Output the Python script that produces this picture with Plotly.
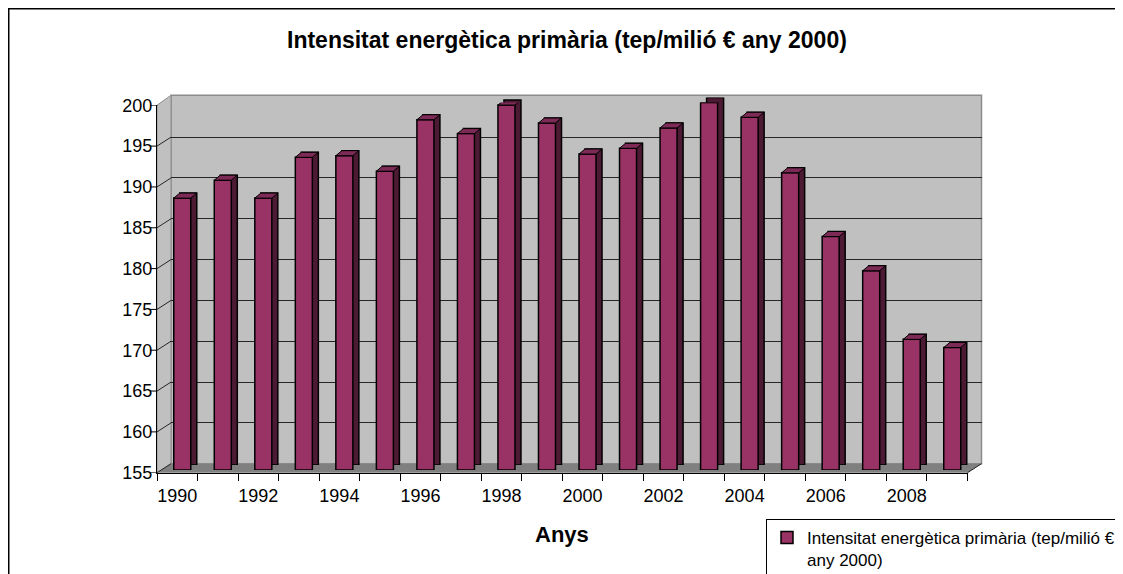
import plotly.graph_objects as go

# ---------------- data ----------------
years = list(range(1990, 2010))
intensity = [188.3, 190.5, 188.3, 193.3, 193.5, 191.6, 197.9, 196.2, 199.7, 197.5,
             193.7, 194.4, 196.9, 200.0, 198.2, 191.4, 183.6, 179.4, 171.0, 170.0]
tick_years = list(range(1990, 2009, 2))
tick_labels = [str(y) for y in tick_years]
y_ticks = list(range(155, 201, 5))
series_name = "Intensitat energètica primària (tep/milió €<br>any 2000)"
title_text = "Intensitat energètica primària (tep/milió € any 2000)"
x_title = "Anys"

# ---------------- geometry / style ----------------
W, H = 1123, 574
OFF = 8  # page body margin offset
FONT = "Arial, 'Liberation Sans', sans-serif"


def px(x):
    return (x - OFF) / W


def py(y):
    return 1 - (y - OFF) / H


FRONT_L, FRONT_R = 157, 967.5
FRONT_TOP, FRONT_BOT = 105.3, 472.7
DX_WALL, DY_WALL = 14, 9
DX_BAR, DY_BAR = 5, 2.7
DX_SIDE, DY_SIDE = 6, 5
BAR_W = 0.42
BAR_WPX = 17
X_RANGE = [years[0] - 0.5, years[-1] + 0.5]
Y_RANGE = [155, 200]

C_FRONT = "#993366"
C_TOP = "#7d2a56"
C_SIDE = "#4d1a33"
C_WALL = "#c0c0c0"
C_FLOOR = "#808080"


def dom(dx, dy):
    return ([px(FRONT_L + dx), px(FRONT_R + dx)],
            [py(FRONT_BOT - dy), py(FRONT_TOP - dy)])


fig = go.Figure()

# back wall subplot (gridlines only)
fig.add_trace(go.Scatter(x=years, y=intensity, mode="markers", marker=dict(opacity=0, size=1),
                         xaxis="x", yaxis="y", showlegend=False, hoverinfo="skip"))
# side / depth copy of the bars
fig.add_trace(go.Bar(x=years, y=[v - Y_RANGE[0] for v in intensity], base=Y_RANGE[0], width=BAR_W,
                     marker=dict(color=C_SIDE, line=dict(color="black", width=1.5)),
                     xaxis="x2", yaxis="y2", showlegend=False, hoverinfo="skip"))
# front faces
fig.add_trace(go.Bar(x=years, y=[v - Y_RANGE[0] for v in intensity], base=Y_RANGE[0], width=BAR_W,
                     name=series_name,
                     marker=dict(color=C_FRONT, line=dict(color="black", width=1.5)),
                     xaxis="x3", yaxis="y3", showlegend=True,
                     customdata=intensity, hovertemplate="%{x}: %{customdata}<extra></extra>"))
# front axes holder
fig.add_trace(go.Scatter(x=years, y=intensity, mode="markers", marker=dict(opacity=0, size=1),
                         xaxis="x4", yaxis="y4", showlegend=False, hoverinfo="skip"))

hidden = dict(visible=False, range=X_RANGE, fixedrange=True)
xd1, yd1 = dom(DX_WALL, DY_WALL)
xd2, yd2 = dom(DX_BAR + DX_SIDE, DY_BAR + DY_SIDE)
xd3, yd3 = dom(DX_BAR, DY_BAR)
xd4, yd4 = dom(0, 0)


def ppath(points):
    return "M" + " L".join(f"{px(a):.5f},{py(b):.5f}" for a, b in points) + " Z"


shapes = []
# back wall
shapes.append(dict(type="rect", xref="paper", yref="paper",
                   x0=px(FRONT_L + DX_WALL), x1=px(FRONT_R + DX_WALL),
                   y0=py(FRONT_BOT - DY_WALL), y1=py(FRONT_TOP - DY_WALL - 1),
                   fillcolor=C_WALL, line=dict(color="#8c8c8c", width=1.5), layer="below"))
# left wall
shapes.append(dict(type="path", xref="paper", yref="paper",
                   path=ppath([(FRONT_L, FRONT_BOT), (FRONT_L, FRONT_TOP),
                               (FRONT_L + DX_WALL, FRONT_TOP - DY_WALL - 1),
                               (FRONT_L + DX_WALL, FRONT_BOT - DY_WALL)]),
                   fillcolor=C_WALL, line=dict(color="#8c8c8c", width=1), layer="below"))
# floor
shapes.append(dict(type="path", xref="paper", yref="paper",
                   path=ppath([(FRONT_L, FRONT_BOT), (FRONT_R, FRONT_BOT),
                               (FRONT_R + DX_WALL, FRONT_BOT - DY_WALL),
                               (FRONT_L + DX_WALL, FRONT_BOT - DY_WALL)]),
                   fillcolor=C_FLOOR, line=dict(width=0), layer="below"))
shapes.append(dict(type="line", xref="paper", yref="paper",
                   x0=px(FRONT_R), y0=py(FRONT_BOT), x1=px(FRONT_R + DX_WALL), y1=py(FRONT_BOT - DY_WALL),
                   line=dict(color="#202020", width=1), layer="below"))
# left wall diagonals and y tick marks
for v in y_ticks:
    shapes.append(dict(type="line", xref="paper", yref="y4", ysizemode="pixel", yanchor=v,
                       x0=px(FRONT_L), x1=px(FRONT_L + DX_WALL), y0=0, y1=DY_WALL,
                       line=dict(color="#262626", width=1), layer="below"))
    shapes.append(dict(type="line", xref="paper", yref="y4", x0=px(FRONT_L - 7), x1=px(FRONT_L),
                       y0=v, y1=v, line=dict(color="black", width=1), layer="above"))
# bar tops
for yr_, v in zip(years, intensity):
    shapes.append(dict(type="path", xref="x3", yref="y3",
                       xsizemode="pixel", xanchor=yr_ - BAR_W / 2,
                       ysizemode="pixel", yanchor=v,
                       path=f"M0,0 L{DX_SIDE},{DY_SIDE} L{BAR_WPX + DX_SIDE},{DY_SIDE} L{BAR_WPX},0 Z",
                       fillcolor=C_TOP, line=dict(color="black", width=1), layer="above"))
# outer border
shapes.append(dict(type="rect", xref="paper", yref="paper",
                   x0=px(8.5), x1=px(1121), y0=py(600), y1=py(8.5),
                   line=dict(color="black", width=2), fillcolor="rgba(0,0,0,0)", layer="above"))

fig.update_layout(
    width=W, height=H, autosize=False,
    margin=dict(l=0, r=0, t=0, b=0, pad=0, autoexpand=False),
    paper_bgcolor="white", plot_bgcolor="rgba(0,0,0,0)",
    font=dict(family=FONT, size=18, color="black"),
    barmode="overlay",
    xaxis=dict(domain=xd1, range=X_RANGE, visible=False, fixedrange=True, anchor="y"),
    yaxis=dict(domain=yd1, range=Y_RANGE, anchor="x", showgrid=True, gridcolor="#262626", gridwidth=1,
               tickmode="array", tickvals=y_ticks[1:-1], showticklabels=False, ticks="",
               showline=False, zeroline=False, fixedrange=True),
    xaxis2=dict(domain=xd2, anchor="y2", **hidden),
    yaxis2=dict(domain=yd2, range=Y_RANGE, anchor="x2", visible=False, fixedrange=True),
    xaxis3=dict(domain=xd3, anchor="y3", **hidden),
    yaxis3=dict(domain=yd3, range=Y_RANGE, anchor="x3", visible=False, fixedrange=True),
    xaxis4=dict(domain=xd4, range=X_RANGE, anchor="y4", showline=True, linecolor="black", linewidth=1,
                tickmode="array", tickvals=tick_years, ticktext=tick_labels,
                ticks="outside", ticklen=7, tickcolor="rgba(0,0,0,0)",
                minor=dict(tickmode="array", tickvals=[y - 0.5 for y in years] + [years[-1] + 0.5],
                           ticks="outside", ticklen=7, tickcolor="black", tickwidth=1, showgrid=False),
                showgrid=False, zeroline=False, tickfont=dict(size=18), fixedrange=True),
    yaxis4=dict(domain=yd4, range=Y_RANGE, anchor="x4", showline=True, linecolor="black", linewidth=1,
                tickmode="array", tickvals=y_ticks, ticks="",
                showgrid=False, zeroline=False, tickfont=dict(size=18), fixedrange=True),
    shapes=shapes,
    annotations=[
        dict(text=f"<b>{title_text}</b>", xref="paper", yref="paper", x=px(567), y=py(40),
             xanchor="center", yanchor="middle", showarrow=False, font=dict(size=23)),
        dict(text=f"<b>{x_title}</b>", xref="paper", yref="paper", x=px(562), y=py(534),
             xanchor="center", yanchor="middle", showarrow=False, font=dict(size=22)),
    ],
    legend=dict(x=px(1121), xanchor="right", y=py(519), yanchor="top",
                bordercolor="black", borderwidth=1, bgcolor="white",
                font=dict(size=17), valign="top", itemwidth=30),
    showlegend=True,
)

fig.write_html("out.html")
